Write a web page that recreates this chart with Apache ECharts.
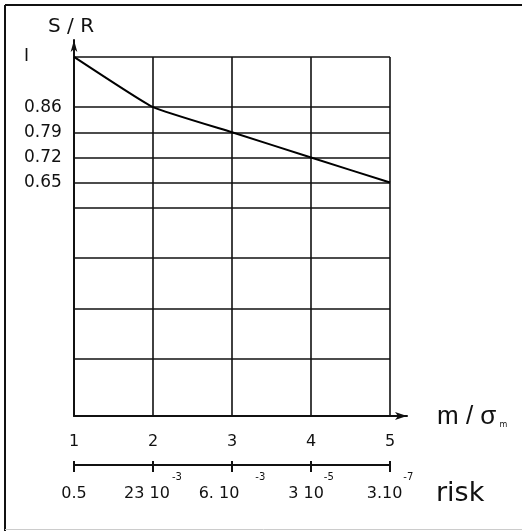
<!DOCTYPE html>
<html><head><meta charset="utf-8">
<script src="https://cdn.jsdelivr.net/npm/echarts@6/dist/echarts.min.js"></script>
<style>html,body{margin:0;padding:0;background:#fff}#c{width:522px;height:531px}</style>
</head><body><div id="c"></div>
<script>
// ---- data ----
const xValues = [1, 2, 3, 4, 5];
const ratioSR = [1, 0.86, 0.79, 0.72, 0.65];
const yTickValues = [1, 0.86, 0.79, 0.72, 0.65];
const yTickLabels = ['I', '0.86', '0.79', '0.72', '0.65'];
const hGridValues = [1, 0.86, 0.79, 0.72, 0.65, 0.58, 0.44, 0.30, 0.16];
const vGridValues = [2, 3, 4, 5];
const xTickLabels = ['1', '2', '3', '4', '5'];
const riskMain = ['0.5', '23 10', '6. 10', '3 10', '3.10'];
const riskExp = ['', '-3', '-3', '-5', '-7'];

// ---- layout/style ----
const supGap = [0, 2, 16, 0, 1];
const FONT = 'DejaVu Sans';
const LINE = '#111';

const chart = echarts.init(document.getElementById('c'), null, {renderer: 'canvas'});

const markLines = [];
hGridValues.forEach(v => markLines.push([{coord: [1, v]}, {coord: [5, v]}]));
vGridValues.forEach(v => markLines.push([{coord: [v, 0]}, {coord: [v, 1]}]));

const riskRich = {b: {fontFamily: FONT, fontSize: 16, color: '#111', lineHeight: 30, verticalAlign: 'bottom'}};
supGap.forEach((g, i) => {
  riskRich['s' + i] = {fontFamily: FONT, fontSize: 10, color: '#111', padding: [0, 0, 0, g], lineHeight: 30, verticalAlign: 'top'};
});

chart.setOption({
  animation: false,
  backgroundColor: '#fff',
  grid: [
    {left: 74, right: 115, top: 40, bottom: 115},
    {left: 74, right: 132, top: 40, bottom: 115}
  ],
  xAxis: [
    {
      type: 'value', gridIndex: 0, min: 1, max: 5.215, interval: 1,
      name: '{a|m / σ}{sub|m}', nameLocation: 'end', nameGap: 30,
      nameTextStyle: {
        align: 'left', verticalAlign: 'middle', padding: [2, 0, 0, 0],
        rich: {
          a: {fontFamily: 'Liberation Sans', fontSize: 26, color: '#111'},
          sub: {fontFamily: FONT, fontSize: 8, color: '#111', padding: [16, 0, 0, 3]}
        }
      },
      axisLine: {show: true, onZero: false, lineStyle: {color: LINE, width: 2}, symbol: ['none', 'arrow'], symbolSize: [6, 12]},
      axisTick: {show: false},
      splitLine: {show: false},
      axisLabel: {
        customValues: xValues, margin: 18,
        fontFamily: FONT, fontSize: 16, color: '#111',
        formatter: v => xTickLabels[xValues.indexOf(v)] ?? ''
      }
    },
    {
      type: 'value', gridIndex: 1, min: 1, max: 5, interval: 1, offset: 49,
      position: 'bottom',
      name: '{r|risk}', nameLocation: 'end', nameGap: 46,
      nameTextStyle: {
        align: 'left', verticalAlign: 'middle', padding: [58, 0, 0, 0],
        rich: {r: {fontFamily: FONT, fontSize: 27, color: '#111'}}
      },
      axisLine: {show: true, onZero: false, lineStyle: {color: LINE, width: 2}},
      axisTick: {show: true, length: 7, lineStyle: {color: LINE, width: 2}},
      splitLine: {show: false},
      axisLabel: {
        margin: 7,
        formatter: v => {
          const i = xValues.indexOf(v);
          if (i < 0) return '';
          return '{b|' + riskMain[i] + '}' + (riskExp[i] ? '{s' + i + '|' + riskExp[i] + '}' : '');
        },
        rich: riskRich
      }
    },
    {
      type: 'value', gridIndex: 1, min: 1, max: 5, interval: 1, offset: 49,
      position: 'bottom',
      axisLine: {show: false, onZero: false},
      axisTick: {show: true, inside: true, length: 4, lineStyle: {color: LINE, width: 2}},
      splitLine: {show: false},
      axisLabel: {show: false}
    }
  ],
  yAxis: [
    {
      type: 'value', gridIndex: 0, min: 0, max: 1.047,
      name: 'S / R', nameLocation: 'end', nameGap: 3,
      nameTextStyle: {fontFamily: FONT, fontSize: 20, color: '#111', align: 'center', padding: [0, 0, 0, -6]},
      axisLine: {show: true, onZero: false, lineStyle: {color: LINE, width: 2}, symbol: ['none', 'arrow'], symbolSize: [5, 12]},
      axisTick: {show: false},
      splitLine: {show: false},
      axisLabel: {
        customValues: yTickValues, margin: 50, align: 'left',
        fontFamily: FONT, fontSize: 17, color: '#111',
        formatter: v => yTickLabels[yTickValues.indexOf(v)] ?? ''
      }
    },
    {type: 'value', gridIndex: 1, min: 0, max: 1.047, show: false}
  ],
  graphic: [
    {type: 'line', shape: {x1: 5, y1: 5, x2: 522, y2: 5}, style: {stroke: '#111', lineWidth: 2}},
    {type: 'line', shape: {x1: 5, y1: 5, x2: 5, y2: 531}, style: {stroke: '#111', lineWidth: 2}},
    {type: 'line', shape: {x1: 5, y1: 529.5, x2: 522, y2: 529.5}, style: {stroke: '#ccc', lineWidth: 1}}
  ],
  series: [
    {
      type: 'line', xAxisIndex: 0, yAxisIndex: 0,
      data: xValues.map((x, i) => [x, ratioSR[i]]),
      smooth: 0.12, symbol: 'none',
      lineStyle: {color: '#000', width: 2},
      markLine: {
        silent: true, symbol: ['none', 'none'], label: {show: false},
        lineStyle: {color: LINE, width: 1.6, type: 'solid'},
        data: markLines
      },
      z: 5
    }
  ]
});
</script></body></html>
